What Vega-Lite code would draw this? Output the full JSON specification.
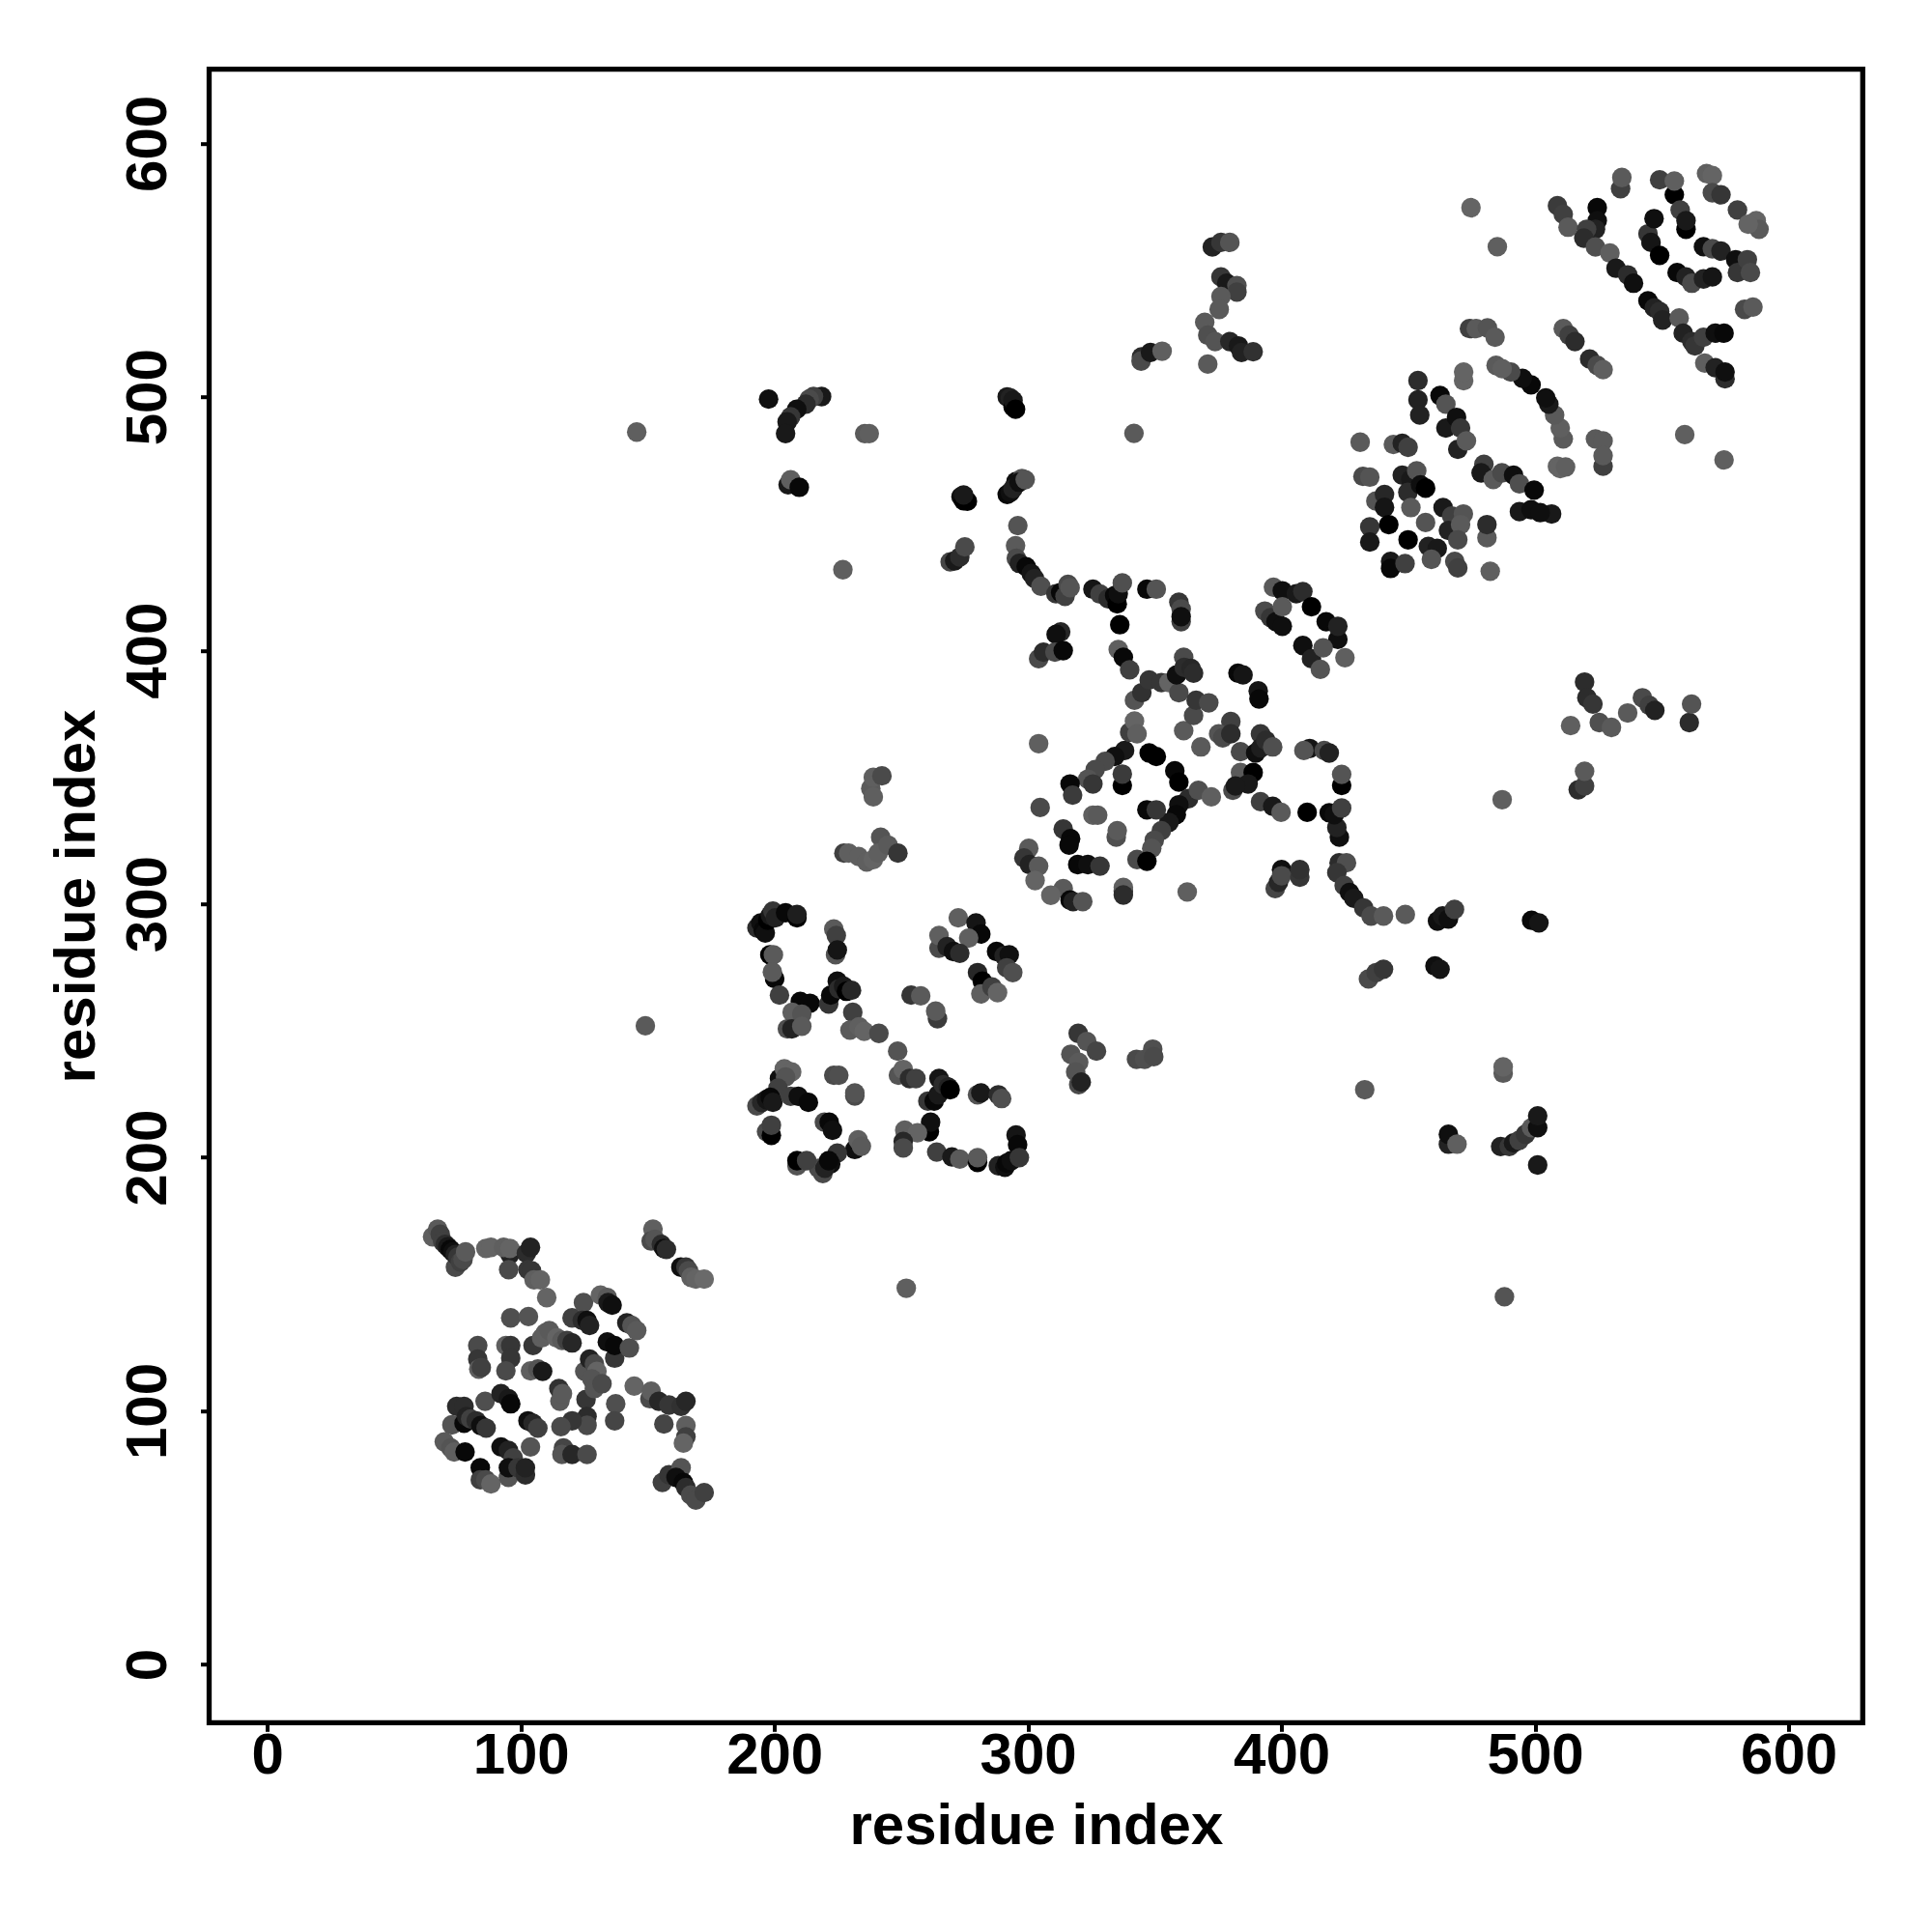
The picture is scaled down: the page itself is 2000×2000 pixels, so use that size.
{"$schema":"https://vega.github.io/schema/vega-lite/v6.json","autosize":{"type":"none"},"padding":{"left":216.5,"top":71.7,"right":71.7,"bottom":216.7},"width":1711.8,"height":1711.6,"background":"white","view":{"stroke":"black","strokeWidth":5.3,"fill":"white"},
"data":{"values":[
{"x":65.2,"y":168.7,"v":0.9},{"x":67.2,"y":171.7,"v":0.85},{"x":68.2,"y":169.7,"v":0.6},{"x":69.2,"y":166.7,"v":0.6},{"x":70.2,"y":165.7,"v":0.4},{"x":71.2,"y":164.7,"v":0.2},{"x":72.2,"y":163.7,"v":0.05},{"x":73.2,"y":162.7,"v":0.1},{"x":74.2,"y":156.7,"v":0.7},{"x":74.2,"y":161.7,"v":0.3},{"x":75.2,"y":160.7,"v":0.5},{"x":76.2,"y":158.7,"v":0.6},{"x":77.2,"y":159.7,"v":0.7},{"x":78.2,"y":162.7,"v":0.85},
{"x":86.2,"y":164.1,"v":0.95},{"x":88.2,"y":164.5,"v":0.95},{"x":95.7,"y":161.7,"v":0.3},{"x":93.2,"y":164.5,"v":0.9},{"x":95.7,"y":164.1,"v":0.95},{"x":95.2,"y":155.7,"v":0.7},{"x":102.2,"y":162.2,"v":0.4},{"x":103.8,"y":164.5,"v":0.3},{"x":102.8,"y":155.7,"v":0.5},{"x":104.2,"y":155.3,"v":0.5},{"x":105.2,"y":151.7,"v":0.9},{"x":107.7,"y":151.7,"v":0.95},{"x":110.2,"y":144.7,"v":0.95},
{"x":152.1,"y":171.7,"v":0.9},{"x":151.4,"y":167,"v":0.7},{"x":152.9,"y":167.7,"v":0.8},{"x":155.4,"y":165.7,"v":0.4},{"x":156.4,"y":164.1,"v":0.1},{"x":157.4,"y":163.7,"v":0.4},{"x":163.1,"y":156.7,"v":0.1},{"x":165.1,"y":156.7,"v":0.5},{"x":166.1,"y":155.3,"v":0.7},{"x":167.1,"y":152.7,"v":0.9},{"x":169,"y":152,"v":0.95},{"x":172.3,"y":152,"v":1},
{"x":96,"y":136.7,"v":0.75},{"x":103,"y":137.2,"v":0.8},{"x":83,"y":125.8,"v":0.7},{"x":83,"y":120.4,"v":0.5},{"x":83.4,"y":116.5,"v":0.9},{"x":84.4,"y":117.1,"v":0.6},{"x":94.1,"y":125.8,"v":0.9},{"x":96,"y":125.8,"v":0.5},{"x":96,"y":120.8,"v":0.5},{"x":94.1,"y":115.8,"v":0.7},{"x":104.8,"y":125.8,"v":0.5},{"x":108.2,"y":128.8,"v":0.9},{"x":109.6,"y":130.7,"v":0.9},{"x":111.2,"y":131.7,"v":0.85},{"x":114.2,"y":128.8,"v":0.95},{"x":116.2,"y":127.8,"v":0.85},{"x":118.2,"y":127.8,"v":0.6},{"x":120.2,"y":126.8,"v":0.35},{"x":120.2,"y":136.7,"v":0.6},{"x":124.7,"y":142.7,"v":0.75},{"x":124.2,"y":135.7,"v":0.4},{"x":126.1,"y":135.7,"v":0.1},{"x":127.1,"y":133.7,"v":0.3},{"x":131.4,"y":145.7,"v":0.95},{"x":134.1,"y":144.7,"v":0.85},{"x":134.4,"y":142.7,"v":0.2},{"x":136,"y":141.7,"v":0.1},{"x":134.1,"y":127.2,"v":0.1},{"x":137,"y":120.8,"v":0.5},{"x":137,"y":125.8,"v":0.05},{"x":142.8,"y":124.8,"v":0.75},{"x":141.8,"y":134.7,"v":0.3},{"x":143.8,"y":133.7,"v":0.8},{"x":145.7,"y":131.7,"v":0.85},
{"x":125.7,"y":104.5,"v":0.5},{"x":125.2,"y":115.6,"v":0.8},{"x":127.1,"y":120.4,"v":0.3},{"x":129,"y":118.5,"v":0.7},{"x":130,"y":115.6,"v":0.95},{"x":128,"y":112.6,"v":0.8},{"x":129,"y":108.8,"v":0.8},{"x":132,"y":110.7,"v":0.7},{"x":137.4,"y":102.8,"v":0.75},{"x":137,"y":96.1,"v":0.65},{"x":126.1,"y":97.8,"v":0.4},{"x":126.1,"y":94.3,"v":0.7},{"x":120.2,"y":96.1,"v":0.5},{"x":115.8,"y":93.8,"v":0.7},{"x":116.8,"y":85.4,"v":0.65},{"x":116.2,"y":82.8,"v":0.8},{"x":120.2,"y":82.8,"v":0.35},{"x":126.1,"y":82.8,"v":0.7},
{"x":103.8,"y":115.8,"v":0.9},{"x":106.7,"y":116.5,"v":0.8},{"x":108.6,"y":115.6,"v":0.2},{"x":115,"y":108.8,"v":0.45},{"x":115.4,"y":103.8,"v":0.85},{"x":116.4,"y":106.8,"v":0.85},
{"x":74.7,"y":101.8,"v":0.4},{"x":77.6,"y":101.8,"v":0.4},{"x":72.8,"y":94.5,"v":0.8},{"x":77.6,"y":95.1,"v":0.05},{"x":78.6,"y":97.8,"v":0.3},{"x":80.2,"y":96.8,"v":0.6},{"x":82.4,"y":96.1,"v":0.4},{"x":84.2,"y":94.2,"v":0.1},{"x":86.3,"y":93.2,"v":0.5},{"x":85.9,"y":103.8,"v":0.75},{"x":92.2,"y":106.8,"v":0.3},{"x":95.1,"y":104.8,"v":0.2},{"x":96,"y":102.8,"v":0.05},{"x":102.8,"y":96.1,"v":0.1},{"x":104.8,"y":95.1,"v":0.35},{"x":106.7,"y":93.2,"v":0.6},{"x":103.8,"y":85.8,"v":0.8},{"x":69.8,"y":87.8,"v":0.85},{"x":72.4,"y":85.4,"v":0.8},{"x":73.7,"y":83.8,"v":0.9},{"x":78,"y":83.8,"v":0.05},{"x":84,"y":77.6,"v":0.05},{"x":84,"y":72.8,"v":0.6},{"x":86.2,"y":72.8,"v":0.7},{"x":88.2,"y":71.2,"v":0.95},{"x":92.2,"y":85.8,"v":0.1},{"x":95.1,"y":84.4,"v":0.3},{"x":97,"y":81.5,"v":0.6},{"x":95.1,"y":73.8,"v":0.8},{"x":95.1,"y":77.6,"v":0.1},{"x":98.9,"y":77.6,"v":0.5},{"x":101.8,"y":74.7,"v":0.4},{"x":101.8,"y":77.6,"v":0.3},
{"x":144.7,"y":109.8,"v":0.95},{"x":150.9,"y":104.8,"v":0.7},{"x":151.4,"y":107.8,"v":0.9},{"x":154.4,"y":103.8,"v":0.35},{"x":158.4,"y":102.3,"v":0.5},{"x":163.2,"y":101.8,"v":0.45},{"x":165.1,"y":103.8,"v":0.35},{"x":156.4,"y":94.8,"v":0.65},{"x":165.1,"y":94.2,"v":0.9},{"x":165.1,"y":89.8,"v":0.6},{"x":164.1,"y":87.3,"v":0.95},{"x":155.8,"y":71.8,"v":0.6},{"x":158.4,"y":74.8,"v":0.5},{"x":163.2,"y":77.6,"v":0.8},{"x":161.2,"y":73.8,"v":0.1},{"x":164.1,"y":71.8,"v":0.05},{"x":165.1,"y":69.8,"v":0.4},{"x":167,"y":66.8,"v":0.7},{"x":169,"y":64.8,"v":0.7},{"x":172.3,"y":67.8,"v":0.6},
{"x":193.1,"y":290.5,"v":0.4},{"x":194.6,"y":292.5,"v":0.1},{"x":195.6,"y":289.5,"v":0.05},{"x":196.4,"y":288.5,"v":0.1},{"x":197.4,"y":293.5,"v":0},{"x":198.4,"y":295.5,"v":0.2},{"x":199.4,"y":297.1,"v":0.5},{"x":200.4,"y":294.5,"v":0.3},{"x":204.4,"y":296.5,"v":0.05},{"x":208.9,"y":294.5,"v":0},{"x":208.9,"y":295.8,"v":0.25},{"x":198.2,"y":279.9,"v":0},{"x":199.6,"y":279.9,"v":0.85},{"x":200.1,"y":270.5,"v":0.05},{"x":199.2,"y":273.1,"v":0.85},{"x":202,"y":264,"v":0.6},{"x":210.2,"y":261.5,"v":0.05},{"x":214,"y":260.8,"v":0.05},{"x":207,"y":257.2,"v":0.9},{"x":210.8,"y":256.5,"v":0.8},{"x":205.1,"y":250.7,"v":0.75},{"x":206.9,"y":250.7,"v":0.3},{"x":210.8,"y":251.7,"v":0.85},
{"x":223.4,"y":290.1,"v":0.85},{"x":224.4,"y":287.5,"v":0.6},{"x":224.1,"y":279.9,"v":0.8},{"x":224.8,"y":281.8,"v":0.15},{"x":221.4,"y":260.5,"v":0.5},{"x":222.2,"y":264,"v":0.05},{"x":224.8,"y":269.5,"v":0.1},{"x":225.4,"y":266.5,"v":0.4},{"x":227.3,"y":267.5,"v":0.2},{"x":228.4,"y":265.5,"v":0},{"x":230.4,"y":265.9,"v":0.35},
{"x":230.9,"y":257.2,"v":0.6},{"x":229.8,"y":250.2,"v":0.85},{"x":233.4,"y":251.5,"v":0.9},{"x":235.4,"y":249.7,"v":0.95},{"x":241.2,"y":248.9,"v":0.7},{"x":248.6,"y":241.9,"v":0.8},{"x":248.9,"y":232.4,"v":0.8},{"x":250.8,"y":234.7,"v":0.95},{"x":253.3,"y":231.1,"v":0.4},{"x":255.8,"y":231.1,"v":0.6},
{"x":260.5,"y":222.2,"v":0.5},{"x":263,"y":222.2,"v":0.05},{"x":264.6,"y":224.7,"v":0.2},{"x":264.9,"y":231.1,"v":0.15},{"x":266.6,"y":228.7,"v":0.4},{"x":268.6,"y":227.7,"v":0.3},{"x":269.3,"y":226.7,"v":0},{"x":280.1,"y":224.7,"v":0.8},{"x":281.4,"y":225.4,"v":0.2},{"x":288.3,"y":224.7,"v":0.4},{"x":289.6,"y":223.2,"v":0.75},
{"x":261.1,"y":210.1,"v":0},{"x":261.6,"y":213.9,"v":0.1},{"x":251.4,"y":210.7,"v":0.9},{"x":256.4,"y":209.7,"v":0.95},{"x":250.8,"y":206.3,"v":0.35},{"x":250.8,"y":203.7,"v":0.7},{"x":264,"y":202.1,"v":0.6},{"x":270,"y":200.2,"v":0.2},{"x":273.1,"y":199.3,"v":0.85},{"x":280.1,"y":198,"v":0},{"x":280.1,"y":199.9,"v":0.85},
{"x":295.3,"y":208.8,"v":0.15},{"x":295.9,"y":205,"v":0.05},{"x":288.3,"y":196.7,"v":0.3},{"x":290.9,"y":196.1,"v":0.1},{"x":291.6,"y":197.7,"v":0.05},{"x":293.4,"y":198.7,"v":0.1},{"x":296.6,"y":199.9,"v":0.5},
{"x":202,"y":231.1,"v":0.1},{"x":203.9,"y":234.9,"v":0.95},{"x":206.8,"y":233.7,"v":0.95},{"x":204.4,"y":231.7,"v":0.8},{"x":201.4,"y":227.3,"v":0.6},{"x":193.1,"y":220.3,"v":0.7},{"x":195,"y":221.6,"v":0.35},{"x":196.9,"y":222.8,"v":0.15},{"x":198.4,"y":223.7,"v":0.05},{"x":199.4,"y":221.7,"v":0.2},{"x":206.4,"y":224.1,"v":0.6},{"x":209.4,"y":224.1,"v":0.1},{"x":213.4,"y":221.7,"v":0.05},
{"x":196.9,"y":210.1,"v":0.7},{"x":198.8,"y":208.7,"v":0},{"x":198.8,"y":212.7,"v":0.6},
{"x":219.7,"y":213.9,"v":0.7},{"x":221.6,"y":213.9,"v":0.05},{"x":222.9,"y":210.7,"v":0.1},{"x":231.7,"y":203.1,"v":0.1},{"x":233,"y":206.9,"v":0.9},{"x":234.3,"y":204.4,"v":0.85},{"x":224.8,"y":201.7,"v":0.5},{"x":222.2,"y":197.4,"v":0.1},{"x":219.1,"y":193.6,"v":0.7},{"x":217.4,"y":195.7,"v":0.7},{"x":219.9,"y":195.7,"v":0.3},{"x":221.4,"y":198.7,"v":0.05},{"x":208.9,"y":196.7,"v":0.8},{"x":208.9,"y":198.7,"v":0},{"x":212.7,"y":198.7,"v":0.6},
{"x":223.4,"y":232.4,"v":0.7},{"x":225.4,"y":232.4,"v":0.75},{"x":231.7,"y":224.2,"v":0.7},{"x":231.7,"y":225.4,"v":0.8},
{"x":272.5,"y":294.5,"v":0.9},{"x":279.5,"y":292.5,"v":0.15},{"x":281.4,"y":288.1,"v":0.05},{"x":276.6,"y":286.5,"v":0.9},{"x":264.9,"y":282.5,"v":0.7},{"x":264.9,"y":287.5,"v":0.9},{"x":268.1,"y":283.1,"v":0.3},{"x":270.6,"y":281.2,"v":0.1},{"x":273.1,"y":280.5,"v":0.4},
{"x":287.6,"y":281.2,"v":0.05},{"x":290.6,"y":279.5,"v":0.3},{"x":292.6,"y":279.9,"v":0.1},{"x":291.6,"y":274.8,"v":0.6},{"x":294,"y":272.9,"v":0.75},{"x":280.1,"y":272.9,"v":0.35},{"x":282,"y":269.5,"v":0},{"x":281.4,"y":264.5,"v":0.9},{"x":285.8,"y":267.2,"v":0.6},{"x":288,"y":265,"v":0.95},
{"x":253.9,"y":264,"v":0.5},{"x":257.7,"y":263.7,"v":0.85},{"x":264.3,"y":254.7,"v":0.55},{"x":263.6,"y":257.7,"v":0.85},
{"x":319.8,"y":248.9,"v":0.5},{"x":316.9,"y":240.7,"v":0.8},{"x":323.2,"y":245.7,"v":0.8},{"x":327,"y":241.9,"v":0.65},{"x":320,"y":237.5,"v":0.85},{"x":318.8,"y":233.7,"v":0.8},{"x":320,"y":228.7,"v":0.7},{"x":321,"y":229.7,"v":0.3},
{"x":342.8,"y":238.7,"v":0.7},{"x":346,"y":238.7,"v":0.75},{"x":349.2,"y":242.7,"v":0.75},{"x":349.6,"y":239.7,"v":0.7},
{"x":252,"y":148.4,"v":0.9},{"x":149.1,"y":251.9,"v":0.85},{"x":337.6,"y":305,"v":0.5},{"x":337.6,"y":306.5,"v":0.9},
{"x":227,"y":431.8,"v":0.9},{"x":269.3,"y":434.9,"v":0.65},{"x":271.1,"y":435.3,"v":0.2},{"x":273.1,"y":436.8,"v":0.4},{"x":275.1,"y":440.8,"v":0.7},
{"x":295.1,"y":441.3,"v":0.85},{"x":295.4,"y":436.3,"v":0.7},{"x":296.6,"y":434.3,"v":0.3},{"x":299.3,"y":433,"v":0.05},{"x":301.3,"y":430.3,"v":0.15},{"x":302.6,"y":428.3,"v":0.3},{"x":305.1,"y":425.3,"v":0.75},{"x":311,"y":422.3,"v":0.5},{"x":312.9,"y":422.8,"v":0.05},{"x":314.6,"y":421.3,"v":0.6},{"x":315.8,"y":426,"v":0.7},{"x":316.6,"y":424.7,"v":0.8},
{"x":325.6,"y":424.1,"v":0.15},{"x":328.4,"y":422.2,"v":0.6},{"x":331.6,"y":420.3,"v":0.4},{"x":334.2,"y":421.6,"v":0.05},{"x":335.2,"y":418.3,"v":0},{"x":335.6,"y":422.3,"v":0.1},{"x":337.2,"y":426.6,"v":0.75},{"x":346.9,"y":424.1,"v":0.05},{"x":350.6,"y":424.1,"v":0.8},{"x":359.5,"y":419,"v":0.5},{"x":360.4,"y":416.3,"v":0.7},{"x":360.4,"y":411.3,"v":0.6},{"x":360.4,"y":413.3,"v":0.1},
{"x":336.2,"y":410.1,"v":0},{"x":312.9,"y":407.3,"v":0.35},{"x":311.1,"y":406.3,"v":0.1},{"x":304.2,"y":396.7,"v":0.7},{"x":306.1,"y":399.3,"v":0.4},{"x":310.6,"y":399.3,"v":0.7},{"x":313.9,"y":399.9,"v":0.05},
{"x":335.6,"y":400.3,"v":0.9},{"x":337.6,"y":397.3,"v":0.05},{"x":340.1,"y":392.3,"v":0.6},
{"x":342,"y":380.3,"v":0.8},{"x":344.9,"y":383.3,"v":0.45},{"x":347.8,"y":388.3,"v":0.5},{"x":352.6,"y":387.3,"v":0.5},{"x":355.6,"y":387.3,"v":0.95},{"x":359.5,"y":383.3,"v":0.7},{"x":358.6,"y":390.3,"v":0.1},{"x":361.4,"y":397.3,"v":0.7},{"x":361.6,"y":393.3,"v":0.4},{"x":364.3,"y":392.9,"v":0.35},{"x":365.3,"y":391,"v":0.4},
{"x":382.8,"y":391,"v":0.05},{"x":384.8,"y":390.3,"v":0.15},{"x":390.8,"y":384,"v":0.15},{"x":391.1,"y":380.8,"v":0.05},
{"x":361.4,"y":368.3,"v":0.85},{"x":365.3,"y":374.3,"v":0.7},{"x":366.3,"y":380.3,"v":0.5},{"x":371.3,"y":379.3,"v":0.7},{"x":368.2,"y":361.9,"v":0.85},{"x":380,"y":371.9,"v":0.6},{"x":375.2,"y":367.1,"v":0.8},{"x":376.8,"y":365.5,"v":0.7},{"x":380,"y":367.1,"v":0.4},
{"x":383.8,"y":360,"v":0.7},{"x":391.7,"y":367.1,"v":0.5},{"x":389.8,"y":359.5,"v":0.1},{"x":391.8,"y":361.5,"v":0.25},{"x":393.8,"y":364.5,"v":0.4},{"x":396.5,"y":361.9,"v":0.75},{"x":383.8,"y":351.8,"v":0.85},{"x":388.8,"y":351.8,"v":0},{"x":386.8,"y":347.3,"v":0.2},{"x":380.8,"y":344.8,"v":0.7},{"x":381.8,"y":346.5,"v":0.2},
{"x":411.1,"y":361.3,"v":0.15},{"x":408.8,"y":360.5,"v":0.8},{"x":416.8,"y":360.5,"v":0.7},{"x":418.8,"y":359.5,"v":0.3},{"x":423.7,"y":346.7,"v":0},{"x":423.7,"y":351.1,"v":0.8},
{"x":391.7,"y":340.3,"v":0.6},{"x":396.5,"y":338.5,"v":0.2},{"x":399.8,"y":336.1,"v":0.85},{"x":410.1,"y":336.1,"v":0},{"x":418.8,"y":335.9,"v":0.05},{"x":422.8,"y":326.3,"v":0.1},{"x":421.8,"y":330.1,"v":0.3},{"x":420.8,"y":335.2,"v":0.1},{"x":423.7,"y":337.8,"v":0.6},
{"x":340.1,"y":367.7,"v":0.6},{"x":342,"y":372.1,"v":0.95},{"x":343,"y":367.1,"v":0.9},
{"x":347.8,"y":359.5,"v":0},{"x":350.6,"y":358.1,"v":0},{"x":338.1,"y":360.5,"v":0.2},{"x":334.2,"y":358.1,"v":0.1},{"x":330.4,"y":356.2,"v":0.7},{"x":326.5,"y":353,"v":0.7},{"x":323.6,"y":349.2,"v":0.8},{"x":316.6,"y":347.3,"v":0.05},{"x":317.6,"y":342.9,"v":0.55},{"x":325.6,"y":347.3,"v":0.5},{"x":337.2,"y":346.7,"v":0},{"x":337.2,"y":351.2,"v":0.55},
{"x":357.9,"y":352.5,"v":0.05},{"x":359.5,"y":348,"v":0},{"x":363.3,"y":341.5,"v":0.4},{"x":367.2,"y":344.8,"v":0.75},{"x":372.3,"y":342.2,"v":0.9},{"x":359.5,"y":339.1,"v":0.1},{"x":358.5,"y":335.2,"v":0.05},{"x":355.6,"y":332.1,"v":0.2},{"x":352.6,"y":328.9,"v":0.6},{"x":349.8,"y":325.1,"v":0.7},{"x":348.8,"y":321.9,"v":0.8},{"x":346.9,"y":337.1,"v":0.05},{"x":350.6,"y":337.1,"v":0.5},
{"x":304.8,"y":338,"v":0.7},{"x":304.2,"y":363.2,"v":0.9},{"x":325.6,"y":335,"v":0.9},{"x":327.5,"y":335,"v":0.85},{"x":334.8,"y":326.3,"v":0.75},{"x":335.2,"y":328.9,"v":0.85},
{"x":313.9,"y":329.5,"v":0.5},{"x":316.8,"y":325.7,"v":0.05},{"x":316.2,"y":323.2,"v":0.05},{"x":319.6,"y":315.5,"v":0.05},{"x":323.6,"y":315.5,"v":0.1},{"x":328.4,"y":314.9,"v":0.5},{"x":343,"y":317.5,"v":0.7},{"x":346.9,"y":316.8,"v":0},
{"x":300.3,"y":321.9,"v":0.85},{"x":298.4,"y":318.1,"v":0.5},{"x":300.6,"y":315.5,"v":0.3},{"x":304.2,"y":314.9,"v":0.85},{"x":302.8,"y":309.2,"v":0.95},{"x":313.9,"y":306,"v":0.85},{"x":309,"y":303.4,"v":0.95},{"x":316.6,"y":301.5,"v":0.05},{"x":317.8,"y":300.9,"v":0.3},{"x":321.6,"y":300.9,"v":0.8},{"x":337.6,"y":303.5,"v":0.4},{"x":362.8,"y":304.7,"v":0.9},
{"x":397.5,"y":306,"v":0.65},{"x":398.8,"y":308.5,"v":0.35},{"x":400,"y":313.5,"v":0.1},{"x":400,"y":311.1,"v":0.7},{"x":407.2,"y":310.5,"v":0.5},{"x":407.2,"y":313.5,"v":0.45},
{"x":422.7,"y":316.2,"v":0.4},{"x":425.6,"y":316.2,"v":0.75},{"x":421.8,"y":312.3,"v":0.5},{"x":424.7,"y":307.2,"v":0.6},{"x":426.8,"y":304.5,"v":0.1},{"x":428.5,"y":302.2,"v":0.2},{"x":432.4,"y":298.4,"v":0.5},{"x":435.3,"y":295.2,"v":0.7},{"x":440.2,"y":295.2,"v":0.85},{"x":448.8,"y":295.8,"v":0.85},
{"x":461.5,"y":293.2,"v":0.1},{"x":463.5,"y":295.2,"v":0.2},{"x":465.8,"y":294,"v":0.1},{"x":468.2,"y":297.8,"v":0.6},{"x":434.3,"y":270.4,"v":0.7},{"x":437.3,"y":272.9,"v":0.6},{"x":440.2,"y":274.2,"v":0.5},{"x":460.5,"y":275.5,"v":0.1},{"x":462.5,"y":274.2,"v":0.15},
{"x":238,"y":345.5,"v":0.85},{"x":239,"y":342.2,"v":0.9},{"x":239,"y":349.9,"v":0.9},{"x":242.4,"y":350.5,"v":0.7},
{"x":227.4,"y":320,"v":0.6},{"x":229.3,"y":320,"v":0.9},{"x":233.2,"y":318.7,"v":0.9},{"x":236.4,"y":316.5,"v":0.9},{"x":239,"y":317.5,"v":0.95},{"x":241.9,"y":326.3,"v":0.8},{"x":240.9,"y":320,"v":0.9},{"x":244.8,"y":323.2,"v":0.85},{"x":248.7,"y":320,"v":0.5},
{"x":372.7,"y":559.1,"v":0.3},{"x":376.1,"y":560.9,"v":0.5},{"x":379.6,"y":560.9,"v":0.8},{"x":376.1,"y":547.3,"v":0.5},{"x":378.4,"y":544.8,"v":0.2},{"x":382.4,"y":543.9,"v":0.75},{"x":382.4,"y":541.3,"v":0.6},{"x":376.1,"y":539.6,"v":0.85},{"x":375.4,"y":534.5,"v":0.85},{"x":369.7,"y":529.4,"v":0.85},{"x":370.9,"y":524.3,"v":0.75},{"x":373.8,"y":521.8,"v":0.8},{"x":379.6,"y":521.8,"v":0.35},{"x":383,"y":520.1,"v":0.2},{"x":384.2,"y":517.5,"v":0.3},{"x":388.8,"y":517.8,"v":0.45},{"x":370.9,"y":512.9,"v":0.85},
{"x":344.8,"y":515.8,"v":0.4},{"x":344.6,"y":514.1,"v":0.7},{"x":348.3,"y":517.5,"v":0.2},{"x":352.9,"y":518,"v":0.9},
{"x":291.8,"y":500,"v":0.2},{"x":293,"y":499.6,"v":0.3},{"x":294.1,"y":496.1,"v":0},{"x":341.8,"y":485.6,"v":0.85},
{"x":291.8,"y":461.5,"v":0.05},{"x":293,"y":462.3,"v":0.1},{"x":295.3,"y":466.6,"v":0.1},{"x":297.6,"y":467.8,"v":0.8},{"x":296,"y":449.2,"v":0.8},{"x":273.6,"y":460.6,"v":0.1},{"x":276.1,"y":458.8,"v":0},
{"x":474.7,"y":574.6,"v":0.95},{"x":485.1,"y":559.2,"v":0.9},
{"x":508.8,"y":575.4,"v":0.55},{"x":511.1,"y":572,"v":0.6},{"x":513,"y":566.9,"v":0.85},{"x":524.5,"y":574.6,"v":0.05},{"x":524.5,"y":569.5,"v":0.1},{"x":523.8,"y":566.1,"v":0.3},{"x":520.3,"y":566.1,"v":0.6},{"x":519.2,"y":562.6,"v":0.4},{"x":523.8,"y":559.1,"v":0.75},{"x":529.5,"y":556.7,"v":0.9},{"x":531.9,"y":550.7,"v":0.2},{"x":536.5,"y":548.1,"v":0.4},{"x":538.8,"y":544.8,"v":0.1},
{"x":533.7,"y":582.1,"v":0.6},{"x":534.2,"y":586.5,"v":0.85},{"x":549.1,"y":585.6,"v":0.6},{"x":554.9,"y":579.7,"v":0},{"x":554.9,"y":585.1,"v":0.9},{"x":567.6,"y":588.1,"v":0.9},{"x":569.9,"y":587.3,"v":0.95},{"x":569.9,"y":580.5,"v":0.7},{"x":573.3,"y":579.7,"v":0.5},
{"x":557.2,"y":573.7,"v":0.6},{"x":559.5,"y":566.1,"v":0},{"x":559.5,"y":569.5,"v":0.2},{"x":544.5,"y":564.3,"v":0.5},{"x":546.9,"y":570.3,"v":0.1},{"x":545.7,"y":560.9,"v":0.15},{"x":549.1,"y":555.8,"v":0},
{"x":566.4,"y":559.2,"v":0.1},{"x":569.9,"y":558.4,"v":0.7},{"x":573.3,"y":557.5,"v":0.3},{"x":579.1,"y":554.1,"v":0.1},{"x":579.8,"y":549,"v":0.5},{"x":583.7,"y":554.1,"v":0.6},{"x":584.9,"y":549,"v":0.7},{"x":579.8,"y":573.7,"v":0.6},{"x":587.2,"y":569.5,"v":0.95},{"x":588.3,"y":566.1,"v":0.85},{"x":584,"y":568.1,"v":0.95},
{"x":556,"y":549,"v":0.05},{"x":559.5,"y":547.3,"v":0.3},{"x":561.8,"y":544.8,"v":0.7},{"x":566.4,"y":546.5,"v":0.3},{"x":569.9,"y":547.3,"v":0.15},
{"x":582.6,"y":534.5,"v":0.7},{"x":585.9,"y":535.4,"v":0.85},
{"x":544.5,"y":537.9,"v":0.05},{"x":547,"y":535.1,"v":0.3},{"x":549.1,"y":533.7,"v":0.4},{"x":550.3,"y":530.3,"v":0.3},{"x":556.8,"y":531.1,"v":0.85},{"x":558.4,"y":525.1,"v":0.3},{"x":561.8,"y":521.8,"v":0.4},{"x":563,"y":520.1,"v":0.5},{"x":566.4,"y":523.5,"v":0.6},{"x":571,"y":525.1,"v":0.1},{"x":574.5,"y":525.1,"v":0.05},
{"x":566.9,"y":513.3,"v":0.9},{"x":571,"y":511.5,"v":0.3},{"x":574.9,"y":507.1,"v":0.4},{"x":574.9,"y":509.8,"v":0.1},
{"x":511.1,"y":526.9,"v":0.85},{"x":513.4,"y":524.3,"v":0.6},{"x":515.7,"y":521.8,"v":0.4},{"x":521.5,"y":514.9,"v":0.4},{"x":524.5,"y":512.4,"v":0.7},{"x":526.8,"y":510.7,"v":0.9},
{"x":559,"y":485.1,"v":0.9},{"x":574.5,"y":475.1,"v":0.9},{"x":523.8,"y":483.4,"v":0.85},{"x":526.8,"y":482.6,"v":0.85},{"x":526.8,"y":472.6,"v":0.6},{"x":526.8,"y":476.8,"v":0.85},{"x":508.8,"y":472.6,"v":0.95},{"x":509.9,"y":471.7,"v":0.95},{"x":512,"y":472.3,"v":0.9},
{"x":511.1,"y":483.4,"v":0.85},{"x":509.9,"y":487.7,"v":0.9},{"x":507.7,"y":492.8,"v":0.85},{"x":505.4,"y":497.1,"v":0.2},{"x":504.2,"y":499.6,"v":0.1},{"x":498.4,"y":504.7,"v":0.05},{"x":495,"y":507.3,"v":0.1},{"x":490.4,"y":509.8,"v":0.7},{"x":484.6,"y":512.4,"v":0.85},{"x":487,"y":511.1,"v":0.9},
{"x":471.8,"y":506.4,"v":0.95},{"x":471.8,"y":509.8,"v":0.95},{"x":474.1,"y":526.9,"v":0.6},{"x":476.8,"y":526.9,"v":0.85},{"x":481.2,"y":527.2,"v":0.8},{"x":484.2,"y":523.5,"v":0.85},
{"x":453.8,"y":506.4,"v":0.4},{"x":453.8,"y":498.8,"v":0.3},{"x":454.5,"y":492.8,"v":0.3},{"x":462.5,"y":500.5,"v":0.05},{"x":464.8,"y":487.7,"v":0.2},{"x":464.8,"y":497.1,"v":0.8},{"x":469,"y":491.9,"v":0.1},{"x":470.6,"y":487.7,"v":0.5},{"x":469.5,"y":479.3,"v":0.3},{"x":472.9,"y":482.6,"v":0.85},
{"x":479.8,"y":473.4,"v":0.6},{"x":478.7,"y":470,"v":0.2},{"x":483.5,"y":467.4,"v":0.85},{"x":486.9,"y":470,"v":0.7},{"x":491.5,"y":469.1,"v":0.1},{"x":493.8,"y":465.7,"v":0.75},{"x":499.6,"y":463.2,"v":0.05},
{"x":493.8,"y":454.7,"v":0.2},{"x":498.4,"y":455.5,"v":0.1},{"x":506.5,"y":453.8,"v":0.2},{"x":502,"y":454.3,"v":0.1},
{"x":431,"y":482.1,"v":0.85},{"x":444.1,"y":481.2,"v":0.85},{"x":447.6,"y":481.7,"v":0.3},{"x":449.9,"y":480.1,"v":0.6},
{"x":432.1,"y":468.6,"v":0.7},{"x":434.8,"y":468.3,"v":0.8},{"x":437.2,"y":458.9,"v":0.8},{"x":440.6,"y":461.5,"v":0.35},{"x":440.6,"y":456.4,"v":0.15},{"x":447.6,"y":469.1,"v":0.3},{"x":451,"y":467.4,"v":0.2},{"x":453.3,"y":470.8,"v":0.8},{"x":449.8,"y":462.3,"v":0.4},{"x":454.8,"y":465.3,"v":0.1},{"x":456.8,"y":464,"v":0},{"x":451,"y":456.3,"v":0.85},
{"x":434.8,"y":448.7,"v":0.5},{"x":442.3,"y":449.6,"v":0},{"x":434.8,"y":442.7,"v":0.2},{"x":449.9,"y":443.6,"v":0},{"x":456.8,"y":450.4,"v":0.8},{"x":463.7,"y":456.3,"v":0.2},{"x":467.1,"y":453,"v":0.6},{"x":465.8,"y":447.3,"v":0.3},{"x":471.7,"y":453.8,"v":0.8},{"x":470.6,"y":449.6,"v":0.85},{"x":469.5,"y":443.6,"v":0.7},{"x":481,"y":444.4,"v":0.85},{"x":481,"y":449.6,"v":0.4},{"x":482.3,"y":431.2,"v":0.9},
{"x":457.9,"y":441,"v":0.3},{"x":461.4,"y":440.2,"v":0.2},{"x":459.1,"y":435.9,"v":0.8},{"x":443,"y":435.1,"v":0.2},{"x":443,"y":432.3,"v":0.05},{"x":448.7,"y":434.2,"v":0.6},{"x":468.3,"y":435.1,"v":0.7},{"x":469.5,"y":432.5,"v":0.6},
{"x":396.8,"y":424.9,"v":0.85},{"x":400.3,"y":423.5,"v":0.1},{"x":405.8,"y":422.3,"v":0.2},{"x":408.4,"y":423.2,"v":0.4},{"x":411.8,"y":417.2,"v":0},{"x":393.4,"y":415.5,"v":0.7},{"x":395.7,"y":412.9,"v":0.5},{"x":397.8,"y":411.3,"v":0.1},{"x":400.3,"y":409.5,"v":0.1},{"x":400.3,"y":417.2,"v":0.85},{"x":417.6,"y":411.3,"v":0.05},{"x":422.2,"y":404.3,"v":0.1},{"x":422.2,"y":409.5,"v":0.3},{"x":408.4,"y":401.9,"v":0.1},{"x":411.8,"y":396.7,"v":0.3},{"x":415.3,"y":392.5,"v":0.8},{"x":416.4,"y":401,"v":0.8},{"x":425,"y":397.1,"v":0.9},
{"x":519.5,"y":387.5,"v":0.4},{"x":520.4,"y":381.3,"v":0.4},{"x":522.8,"y":378.8,"v":0.5},{"x":514,"y":370.3,"v":0.9},{"x":525.3,"y":371.5,"v":0.75},{"x":530.1,"y":369.6,"v":0.85},{"x":536.5,"y":375.3,"v":0.85},{"x":542.3,"y":381.3,"v":0.7},{"x":545,"y":378.3,"v":0.6},{"x":547.2,"y":376.3,"v":0.3},{"x":560.8,"y":371.5,"v":0.4},{"x":561.7,"y":378.8,"v":0.8},{"x":517,"y":345,"v":0.4},{"x":519.5,"y":346.5,"v":0.6},{"x":519.5,"y":352.3,"v":0.85},
{"x":487,"y":341.1,"v":0.9},{"x":498.6,"y":293.5,"v":0.05},{"x":501.5,"y":292.5,"v":0.15},{"x":432.8,"y":226.7,"v":0.85},{"x":487.9,"y":145,"v":0.8},{"x":487.4,"y":233.2,"v":0.85},{"x":487.4,"y":235.7,"v":0.95},
{"x":501,"y":197,"v":0.2},{"x":486.4,"y":204.3,"v":0.3},{"x":489.8,"y":204.3,"v":0.5},{"x":491.5,"y":205.7,"v":0.2},{"x":493.7,"y":206.7,"v":0.6},{"x":496.2,"y":209.1,"v":0.5},{"x":498.6,"y":211.7,"v":0.85},{"x":501,"y":211.7,"v":0.1},{"x":501,"y":216.4,"v":0.2},
{"x":465.8,"y":205.2,"v":0.3},{"x":465.8,"y":209.1,"v":0.1},{"x":469.2,"y":205.2,"v":0.9},
{"x":145.7,"y":486.1,"v":0.9},{"x":235.6,"y":485.5,"v":0.85},{"x":237.4,"y":485.5,"v":0.9},
{"x":197.7,"y":499.1,"v":0.1},{"x":218.6,"y":500.1,"v":0.2},{"x":215.4,"y":500.1,"v":0.6},{"x":213.7,"y":499.1,"v":0.7},{"x":212.4,"y":497.1,"v":0.4},{"x":208.8,"y":495.1,"v":0.1},{"x":206.4,"y":492.1,"v":0.5},{"x":205,"y":490.1,"v":0.2},{"x":204.4,"y":485.5,"v":0.2},{"x":205.4,"y":465.3,"v":0.2},{"x":206.4,"y":467.3,"v":0.9},{"x":209.8,"y":464.3,"v":0.05},
{"x":274.6,"y":459,"v":0},{"x":274.6,"y":461.3,"v":0.2},{"x":294.1,"y":498.6,"v":0.2},{"x":295.1,"y":495.1,"v":0},{"x":294.1,"y":463.8,"v":0.3},{"x":296.5,"y":466.3,"v":0.1},{"x":298.9,"y":467.3,"v":0.8}
]},
"mark":{"type":"point","filled":true,"shape":"circle","size":412,"opacity":1,"stroke":null,"clip":true},
"encoding":{
"x":{"field":"x","type":"quantitative","scale":{"domain":[-22.93,629.2],"nice":false,"zero":false},
"axis":{"values":[0,100,200,300,400,500,600],"title":"residue index","grid":false,"domain":false,"tickColor":"black","tickWidth":4,"tickSize":9,"labelFont":"Liberation Sans","labelFontWeight":"bold","labelFontSize":60,"labelColor":"black","labelPadding":-4,"titleFont":"Liberation Sans","titleFontWeight":"bold","titleFontSize":60,"titleColor":"black","titlePadding":14,"labelFlush":false,"labelOverlap":false}},
"y":{"field":"y","type":"quantitative","scale":{"domain":[-22.98,629.2],"nice":false,"zero":false},
"axis":{"values":[0,100,200,300,400,500,600],"title":"residue index","grid":false,"domain":false,"tickColor":"black","tickWidth":4,"tickSize":9,"labelFont":"Liberation Sans","labelFontWeight":"bold","labelFontSize":60,"labelColor":"black","labelAngle":-90,"labelAlign":"center","labelBaseline":"bottom","labelPadding":23,"titleFont":"Liberation Sans","titleFontWeight":"bold","titleFontSize":60,"titleColor":"black","titlePadding":13,"labelFlush":false,"labelOverlap":false}},
"color":{"field":"v","type":"quantitative","legend":null,"scale":{"domain":[0,1],"range":["#000000","#6a6a6a"]}}
}}
